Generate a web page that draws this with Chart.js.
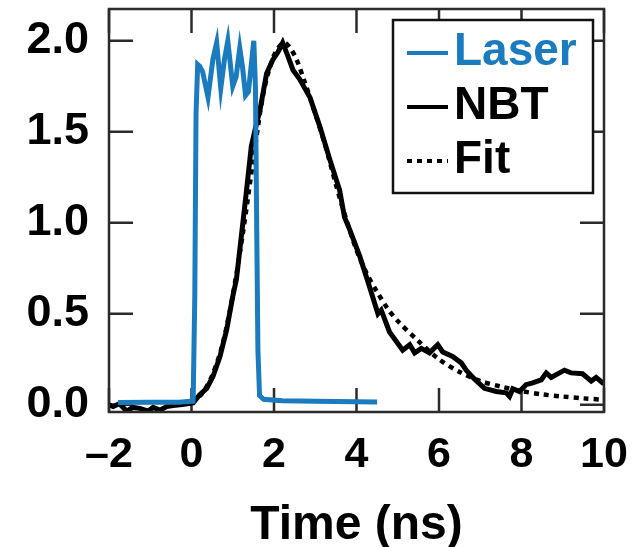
<!DOCTYPE html>
<html>
<head>
<meta charset="utf-8">
<script src="https://cdn.jsdelivr.net/npm/chart.js@4.4.1/dist/chart.umd.min.js"></script>
<style>
  html, body { margin: 0; padding: 0; background: #fff; }
  #wrap { width: 634px; height: 547px; position: relative; }
</style>
</head>
<body>
<div id="wrap"><canvas id="pulseChart"></canvas></div>
<script>
// Laser pulse (blue)
const laserT = [-1.78, -1.0, -0.3, 0.04, 0.08, 0.11, 0.15, 0.2, 0.27, 0.4, 0.52, 0.61, 0.71, 0.8, 0.88, 1.0, 1.08, 1.17, 1.24, 1.31, 1.38, 1.51, 1.55, 1.58, 1.61, 1.65, 1.75, 2.2, 3.0, 4.0, 4.5];
const laserV = [0.012, 0.013, 0.014, 0.02, 0.6, 1.6, 1.87, 1.86, 1.83, 1.69, 1.9, 1.99, 1.74, 1.9, 2.0, 1.75, 1.8, 1.96, 1.85, 1.7, 1.72, 2.0, 1.75, 1.0, 0.3, 0.05, 0.03, 0.022, 0.019, 0.016, 0.015];

// NBT signal (black)
const nbtT = [-2.0, -1.9, -1.75, -1.57, -1.42, -1.25, -1.05, -0.93, -0.77, -0.6, -0.45, -0.28, -0.1, 0.04, 0.2, 0.37, 0.52, 0.69, 0.85, 1.0, 1.09, 1.2, 1.32, 1.45, 1.55, 1.66, 1.82, 1.97, 2.1, 2.21, 2.33, 2.46, 2.62, 2.87, 3.11, 3.35, 3.59, 3.71, 3.84, 4.08, 4.3, 4.52, 4.6, 4.8, 5.12, 5.29, 5.41, 5.57, 5.77, 5.97, 6.09, 6.33, 6.54, 6.66, 6.82, 7.1, 7.39, 7.63, 7.71, 7.79, 7.95, 8.11, 8.27, 8.48, 8.6, 8.72, 9.04, 9.2, 9.48, 9.69, 9.81, 9.97, 10.0];
const nbtV = [0.0, -0.01, 0.005, -0.035, -0.015, -0.02, -0.035, -0.015, -0.03, -0.01, -0.005, 0.0, 0.005, 0.01, 0.055, 0.09, 0.155, 0.265, 0.41, 0.595, 0.69, 0.91, 1.15, 1.42, 1.52, 1.62, 1.82, 1.895, 1.94, 1.99, 1.92, 1.84, 1.79, 1.69, 1.53, 1.35, 1.18, 1.03, 0.96, 0.815, 0.66, 0.5, 0.52, 0.4, 0.3, 0.33, 0.285, 0.31, 0.285, 0.33, 0.29, 0.265, 0.23, 0.19, 0.15, 0.09, 0.073, 0.065, 0.045, 0.088, 0.073, 0.11, 0.12, 0.137, 0.175, 0.15, 0.19, 0.175, 0.17, 0.13, 0.15, 0.12, 0.12];

// Fit (dotted)
const fitT = [0.0, 0.25, 0.5, 0.75, 1.0, 1.25, 1.5, 1.75, 2.0, 2.25, 2.5, 2.75, 3.0, 3.25, 3.5, 3.75, 4.0, 4.25, 4.5, 4.75, 5.0, 5.5, 6.0, 6.5, 7.0, 7.5, 8.0, 8.5, 9.0, 9.5, 10.0];
const fitV = [0.01, 0.06, 0.16, 0.33, 0.6, 0.95, 1.35, 1.72, 1.92, 1.99, 1.92, 1.77, 1.6, 1.42, 1.21, 1.02, 0.85, 0.72, 0.62, 0.53, 0.46, 0.35, 0.25, 0.18, 0.13, 0.1, 0.075, 0.057, 0.045, 0.035, 0.027];

const xTicks = [-2, 0, 2, 4, 6, 8, 10];
const yTicks = [0, 0.5, 1.0, 1.5, 2.0];

const BLUE = '#1a7bbf';
const FAMILY = '"Liberation Sans", Arial, sans-serif';

function toPoints(ts, vs) {
    return ts.map(function(t, i) { return { x: t, y: vs[i] }; });
}

// ticks pointing inward on all four sides + frame
const frameTicks = {
    id: 'frameTicks',
    beforeDatasetsDraw: function(chart) {
        const ctx = chart.ctx;
        const a = chart.chartArea;
        const xs = chart.scales.x, ys = chart.scales.y;
        const len = 24;
        ctx.save();
        ctx.strokeStyle = '#2b2b2b';
        ctx.lineWidth = 2.5;
        ctx.beginPath();
        xTicks.forEach(function(v) {
            const px = xs.getPixelForValue(v);
            ctx.moveTo(px, a.bottom); ctx.lineTo(px, a.bottom - len);
            ctx.moveTo(px, a.top); ctx.lineTo(px, a.top + len);
        });
        yTicks.forEach(function(v) {
            const py = ys.getPixelForValue(v);
            ctx.moveTo(a.left, py); ctx.lineTo(a.left + len, py);
            ctx.moveTo(a.right, py); ctx.lineTo(a.right - len, py);
        });
        ctx.stroke();
        ctx.restore();
    },
    afterDraw: function(chart) {
        const ctx = chart.ctx;
        const a = chart.chartArea;
        ctx.save();
        ctx.strokeStyle = '#2b2b2b';
        ctx.lineWidth = 2.5;
        ctx.strokeRect(a.left, a.top, a.right - a.left, a.bottom - a.top);
        ctx.restore();
    }
};

// boxed legend inside the plot, top right
const boxLegend = {
    id: 'boxLegend',
    afterDatasetsDraw: function(chart) {
        const ctx = chart.ctx;
        const a = chart.chartArea;
        const right = a.right - 11, top = a.top + 11;
        const w = 200, h = 173;
        const left = right - w;
        ctx.save();
        ctx.fillStyle = '#fff';
        ctx.fillRect(left, top, w, h);
        ctx.strokeStyle = '#111';
        ctx.lineWidth = 2.5;
        ctx.strokeRect(left, top, w, h);
        ctx.font = 'bold 46px ' + FAMILY;
        ctx.textBaseline = 'alphabetic';
        chart.data.datasets.forEach(function(ds, i) {
            const base = top + 45 + i * 54;
            const ly = base - 12;
            ctx.strokeStyle = ds.borderColor;
            ctx.lineWidth = 4;
            ctx.setLineDash(ds.borderDash || []);
            ctx.beginPath();
            ctx.moveTo(left + 14, ly);
            ctx.lineTo(left + 55, ly);
            ctx.stroke();
            ctx.setLineDash([]);
            ctx.fillStyle = ds.borderColor;
            ctx.fillText(ds.label, left + 61, base);
        });
        ctx.restore();
    }
};

const ctx = document.getElementById('pulseChart').getContext('2d');
const chart = new Chart(ctx, {
    type: 'line',
    data: {
        datasets: [{
            label: 'Laser',
            data: toPoints(laserT, laserV),
            borderColor: BLUE,
            borderWidth: 5,
            pointRadius: 0,
            tension: 0
        }, {
            label: 'NBT',
            data: toPoints(nbtT, nbtV),
            borderColor: '#000',
            borderWidth: 5,
            pointRadius: 0,
            tension: 0
        }, {
            label: 'Fit',
            data: toPoints(fitT, fitV),
            borderColor: '#000',
            borderWidth: 4.5,
            borderDash: [5, 5],
            pointRadius: 0,
            tension: 0.3
        }]
    },
    options: {
        responsive: true,
        maintainAspectRatio: false,
        animation: false,
        events: [],
        layout: { padding: { top: 9, right: 30, left: 0, bottom: 0 } },
        plugins: {
            legend: { display: false },
            tooltip: { enabled: false }
        },
        scales: {
            x: {
                type: 'linear',
                min: -2,
                max: 10,
                afterBuildTicks: function(scale) {
                    scale.ticks = xTicks.map(function(v) { return { value: v }; });
                },
                afterFit: function(scale) {
                    scale.height = 135;
                    scale.paddingLeft = 0;
                    scale.paddingRight = 0;
                },
                grid: { display: false },
                border: { display: false },
                ticks: {
                    color: '#000',
                    font: { family: FAMILY, size: 43, weight: 'bold' },
                    padding: 9,
                    maxRotation: 0,
                    callback: function(v) { return v < 0 ? '\u2013' + Math.abs(v) : String(v); }
                },
                title: {
                    display: true,
                    text: 'Time (ns)',
                    color: '#000',
                    font: { family: FAMILY, size: 48, weight: 'bold', lineHeight: 0.9 },
                    padding: { top: 0, bottom: 0 }
                }
            },
            y: {
                type: 'linear',
                min: -0.04,
                max: 2.175,
                afterBuildTicks: function(scale) {
                    scale.ticks = yTicks.map(function(v) { return { value: v }; });
                },
                afterFit: function(scale) {
                    scale.width = 109;
                    scale.paddingTop = 0;
                    scale.paddingBottom = 0;
                },
                grid: { display: false },
                border: { display: false },
                ticks: {
                    color: '#000',
                    font: { family: FAMILY, size: 45, weight: 'bold' },
                    padding: 12,
                    callback: function(v) { return v.toFixed(1); }
                }
            }
        }
    },
    plugins: [frameTicks, boxLegend]
});
</script>
</body>
</html>
